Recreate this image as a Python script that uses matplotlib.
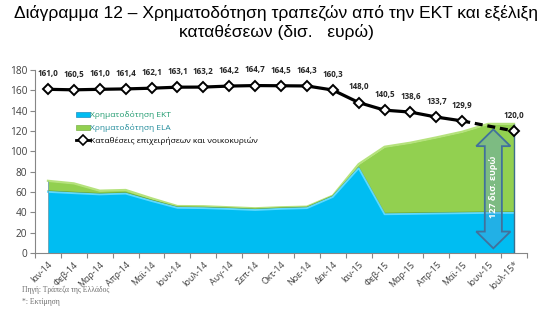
import numpy as np
import matplotlib
matplotlib.use("Agg")
import matplotlib.pyplot as plt
from matplotlib.patches import Polygon, Patch
from matplotlib.lines import Line2D

months = ["Ιαν-14", "Φεβ-14", "Μαρ-14", "Απρ-14", "Μαϊ-14", "Ιουν-14", "Ιουλ-14",
          "Αυγ-14", "Σεπ-14", "Οκτ-14", "Νοε-14", "Δεκ-14", "Ιαν-15", "Φεβ-15",
          "Μαρ-15", "Απρ-15", "Μαϊ-15", "Ιουν-15", "Ιουλ-15*"]

# ECB funding (bn EUR)
ecb = [61.0, 59.7, 58.5, 59.3, 52.0, 45.3, 45.0, 44.2, 43.2, 44.3, 45.0, 56.0, 84.3,
       39.0, 39.3, 39.7, 40.0, 40.3, 40.3]
# ELA funding (bn EUR)
ela = [10.0, 8.8, 2.8, 2.7, 1.8, 0.9, 1.0, 0.8, 0.8, 0.7, 0.6, 0.4, 3.2,
       65.5, 69.2, 74.0, 79.3, 86.7, 86.7]
# Deposits of businesses and households (bn EUR); June 2015 not reported
deposits = [161.0, 160.5, 161.0, 161.4, 162.1, 163.1, 163.2, 164.2, 164.7, 164.5,
            164.3, 160.3, 148.0, 140.5, 138.6, 133.7, 129.9, np.nan, 120.0]

arrow_label = "127 δισ. ευρώ"
title = "Διάγραμμα 12 – Χρηματοδότηση τραπεζών από την ΕΚΤ και εξέλιξη\nκαταθέσεων (δισ.   ευρώ)"
source_note = "Πηγή: Τράπεζα της Ελλάδος"
estimate_note = "*: Εκτίμηση"

GREEK = ["Open Sans", "DejaVu Sans"]

x = np.arange(len(months))
ecb_a = np.array(ecb)
total = ecb_a + np.array(ela)
dep = np.array(deposits, dtype=float)

fig = plt.figure(figsize=(5.52, 3.25), dpi=100)
ax = fig.add_axes([35 / 552, 72 / 325, (527 - 35) / 552, (253 - 70) / 325])

blue = "#00BDF2"
green = "#92D050"

ax.fill_between(x, 0, ecb_a, color=blue, lw=0, zorder=2)
ax.fill_between(x, ecb_a, total, color=green, lw=0, zorder=2)
ax.plot(x, total, color="#B5E27C", lw=1.6, zorder=3)
ax.plot(x, ecb_a, color="#5A9E3A", lw=0.8, zorder=3)
ax.plot(x, ecb_a - 0.9, color="#5ED9FF", lw=1.3, zorder=3)
ax.vlines(x[-1], 0, total[-1], color="#3D6F8C", lw=1.0, zorder=3)
ax.vlines(x[0], 0, total[0], color="#6FA0B0", lw=0.6, zorder=3)

# deposits line: solid for observed months, dashed towards the estimate
valid = ~np.isnan(dep)
vx, vy = x[valid], dep[valid]
ax.plot(vx[:-1], vy[:-1], color="black", lw=2.3, zorder=5)
ax.plot(vx[-2:], vy[-2:], color="black", lw=2.3, ls=(0, (2.5, 1.5)), zorder=5)
ax.plot(vx, vy, ls="none", marker="D", ms=5.5, mfc="white", mec="black",
        mew=1.4, zorder=6)
for xi, yi in zip(vx, vy):
    ax.annotate(f"{yi:.1f}".replace(".", ","), (xi, yi), xytext=(0, 8),
                textcoords="offset points", ha="center", va="bottom",
                fontsize=5.8, fontweight="bold", color="#262626",
                family=GREEK, zorder=7)

# double-headed block arrow for the total funding
ax_c = 17.2
y0, y1 = 4.6, 121.6
sw, hw, hl = 0.33, 0.66, 16.5
pts = [(ax_c, y1), (ax_c + hw, y1 - hl), (ax_c + sw, y1 - hl), (ax_c + sw, y0 + hl),
       (ax_c + hw, y0 + hl), (ax_c, y0), (ax_c - hw, y0 + hl), (ax_c - sw, y0 + hl),
       (ax_c - sw, y1 - hl), (ax_c - hw, y1 - hl)]
ax.add_patch(Polygon(pts, closed=True, facecolor="#5B9BD5", alpha=0.38,
                     edgecolor="none", zorder=4))
ax.add_patch(Polygon(pts, closed=True, facecolor="none", edgecolor="#41719C",
                     lw=1.3, zorder=4))
ax.text(ax_c, (y0 + y1) / 2 + 2, arrow_label, rotation=90, ha="center",
        va="center", color="white", fontsize=6.6, fontweight="bold",
        family=GREEK, zorder=5)

ax.set_xlim(-0.5, len(months) - 0.5)
ax.set_ylim(0, 180)
ax.set_yticks(np.arange(0, 181, 20))
ax.tick_params(axis="y", labelsize=7.3, colors="#404040", length=3.5,
               width=0.8, pad=2)
for lab in ax.get_yticklabels():
    lab.set_family(GREEK)
ax.set_xticks(x)
ax.set_xticklabels(months, rotation=45, ha="right", va="top",
                   rotation_mode="anchor", fontsize=6.4, color="#404040",
                   family=GREEK)
ax.tick_params(axis="x", which="major", length=0, pad=5)
ax.set_xticks(np.arange(-0.5, len(months), 1.0), minor=True)
ax.tick_params(axis="x", which="minor", length=3.5, width=0.8, color="#868686")
ax.tick_params(axis="y", color="#868686")
for s in ("top", "right"):
    ax.spines[s].set_visible(False)
for s in ("left", "bottom"):
    ax.spines[s].set_color("#868686")
    ax.spines[s].set_linewidth(0.8)

handles = [
    Patch(facecolor=blue, edgecolor="#1F8FC0", lw=0.5),
    Patch(facecolor=green, edgecolor="#7BB24A", lw=0.5),
    Line2D([], [], color="black", lw=2, marker="D", ms=5, mfc="white",
           mec="black", mew=1.2),
]
labels = ["Χρηματοδότηση ΕΚΤ", "Χρηματοδότηση ELA",
          "Καταθέσεις επιχειρήσεων και νοικοκυριών"]
leg = ax.legend(handles, labels, loc="upper left",
                bbox_to_anchor=((73 - 35) / 492, (253 - 108) / 183), frameon=False,
                handlelength=1.6, handleheight=0.6,
                handletextpad=0.1, labelspacing=0.55, borderaxespad=0,
                prop={"family": GREEK, "size": 6.0})
for t, c in zip(leg.get_texts(), ["#1E9A6E", "#1E8A9A", "black"]):
    t.set_color(c)

fig.text(0.5, 1 - 22.5 / 325, title, ha="center", va="center", fontsize=12.5,
         family=["Liberation Sans", "DejaVu Sans"], linespacing=1.25)
fig.text(22 / 552, 1 - 290 / 325, source_note, ha="left", va="center",
         fontsize=5.5, color="#6E6E6E", family=["Liberation Serif", "DejaVu Serif"])
fig.text(22 / 552, 1 - 302 / 325, estimate_note, ha="left", va="center",
         fontsize=5.5, color="#6E6E6E", family=["Liberation Serif", "DejaVu Serif"])

fig.savefig("out.png", dpi=100)
